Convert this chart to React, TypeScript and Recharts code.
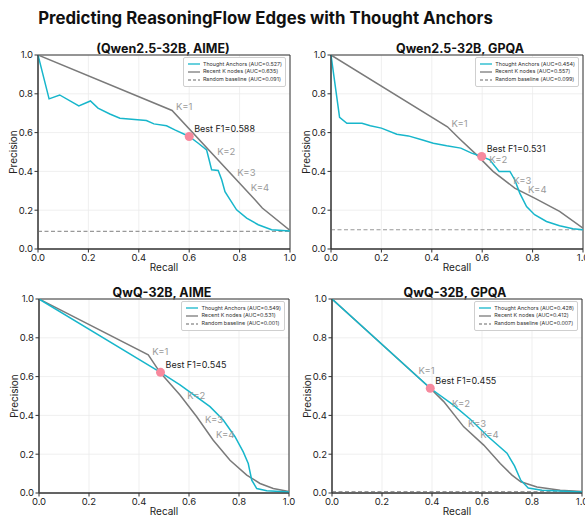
import React from "react";
import { ComposedChart, Line, Scatter, XAxis, YAxis, CartesianGrid, Legend, ReferenceArea, Label } from "recharts";

const TICKS = [0, 0.2, 0.4, 0.6, 0.8, 1.0];
const CYAN = "#17b6cb";
const GRAY = "#7a7a7a";
const BASE = "#999999";
const PINK = "#f7899d";

// Qwen2.5-32B, AIME
const qwenAimeAnchors = [[0, 1], [0.044, 0.774], [0.086, 0.794], [0.162, 0.738], [0.208, 0.763], [0.238, 0.726], [0.285, 0.696], [0.325, 0.674], [0.43, 0.662], [0.46, 0.645], [0.51, 0.635], [0.543, 0.614], [0.6, 0.58], [0.636, 0.545], [0.669, 0.511], [0.679, 0.46], [0.689, 0.408], [0.715, 0.405], [0.729, 0.357], [0.742, 0.296], [0.762, 0.254], [0.788, 0.202], [0.828, 0.159], [0.874, 0.125], [0.927, 0.099], [1, 0.093]];
const qwenAimeRecent = [[0, 1], [0.532, 0.714], [0.861, 0.254], [0.89, 0.211], [1, 0.096]];
const qwenAimeK = [[1, 0.532, 0.714], [2, 0.695, 0.486], [3, 0.775, 0.374], [4, 0.828, 0.3]];

// Qwen2.5-32B, GPQA
const qwenGpqaAnchors = [[0, 1], [0.034, 0.679], [0.063, 0.648], [0.123, 0.648], [0.156, 0.635], [0.2, 0.623], [0.261, 0.592], [0.307, 0.583], [0.36, 0.563], [0.406, 0.545], [0.459, 0.532], [0.515, 0.52], [0.558, 0.494], [0.598, 0.477], [0.63, 0.46], [0.667, 0.4], [0.71, 0.4], [0.729, 0.357], [0.749, 0.288], [0.776, 0.219], [0.808, 0.177], [0.855, 0.142], [0.907, 0.12], [0.96, 0.104], [1, 0.099]];
const qwenGpqaRecent = [[0, 1], [0.462, 0.63], [0.512, 0.566], [0.578, 0.485], [0.643, 0.4], [0.729, 0.314], [0.808, 0.262], [0.907, 0.194], [1, 0.108]];
const qwenGpqaK = [[1, 0.462, 0.63], [2, 0.612, 0.442], [3, 0.707, 0.336], [4, 0.766, 0.29]];

// QwQ-32B, AIME
const qwqAimeAnchors = [[0, 1], [0.486, 0.622], [0.564, 0.557], [0.684, 0.445], [0.737, 0.376], [0.784, 0.29], [0.817, 0.212], [0.837, 0.152], [0.851, 0.066], [0.871, 0.023], [0.911, 0.012], [1, 0.005]];
const qwqAimeRecent = [[0, 1], [0.437, 0.712], [0.484, 0.622], [0.564, 0.505], [0.631, 0.393], [0.697, 0.272], [0.764, 0.169], [0.831, 0.092], [0.884, 0.049], [0.937, 0.023], [1, 0.008]];
const qwqAimeK = [[1, 0.437, 0.712], [2, 0.577, 0.483], [3, 0.648, 0.362], [4, 0.692, 0.281]];

// QwQ-32B, GPQA
const qwqGpqaAnchors = [[0, 1], [0.393, 0.54], [0.486, 0.453], [0.553, 0.38], [0.625, 0.29], [0.7, 0.205], [0.73, 0.14], [0.755, 0.066], [0.785, 0.026], [0.84, 0.014], [1, 0.005]];
const qwqGpqaRecent = [[0, 1], [0.393, 0.54], [0.447, 0.471], [0.527, 0.341], [0.607, 0.247], [0.673, 0.152], [0.72, 0.092], [0.755, 0.058], [0.82, 0.031], [0.913, 0.014], [1, 0.008]];
const qwqGpqaK = [[1, 0.33, 0.614], [2, 0.464, 0.443], [3, 0.528, 0.341], [4, 0.577, 0.282]];

const titles = ["(Qwen2.5-32B, AIME)", "Qwen2.5-32B, GPQA", "QwQ-32B, AIME", "QwQ-32B, GPQA"];
const baselines = [0.091, 0.099, 0.001, 0.007];
const aucAnchors = ["0.527", "0.454", "0.549", "0.428"];
const aucRecent = ["0.635", "0.557", "0.531", "0.412"];
const aucRandom = ["0.091", "0.099", "0.001", "0.007"];
const bestPoints = [[0.6, 0.58], [0.598, 0.477], [0.486, 0.622], [0.393, 0.54]];
const bestF1 = ["0.588", "0.531", "0.545", "0.455"];

const pts = (a: number[][]) => a.map(([r, p]) => ({ r, p }));
const kpts = (a: number[][]) => a.map(([k, r, p]) => ({ k, r, p }));

const ML = 38, MT = 6, MR = 8, XH = 30;

function LegendBox({ items }: { items: { name: string; color: string; dash?: string }[] }) {
  return (
    <div style={{ background: "#fff", border: "1px solid #cfcfcf", borderRadius: 2, padding: "2.5px 3px 2.5px 4px", fontSize: 5.4, color: "#333", lineHeight: "7.8px", whiteSpace: "nowrap" }}>
      {items.map((it) => (
        <div key={it.name} style={{ display: "flex", alignItems: "center" }}>
          <svg width={12} height={6} style={{ marginRight: 3 }}>
            <line x1={0} y1={3} x2={12} y2={3} stroke={it.color} strokeWidth={1.3} strokeDasharray={it.dash} />
          </svg>
          <span>{it.name}</span>
        </div>
      ))}
    </div>
  );
}

type PanelProps = { i: number; left: number; top: number; w: number; h: number; titleX: number; anchors: number[][]; recent: number[][]; ks: number[][] };

function Panel({ i, left, top, w, h, titleX, anchors, recent, ks }: PanelProps) {
  const b = baselines[i];
  const items = [
    { name: `Thought Anchors (AUC=${aucAnchors[i]})`, color: CYAN },
    { name: `Recent K nodes (AUC=${aucRecent[i]})`, color: GRAY },
    { name: `Random baseline (AUC=${aucRandom[i]})`, color: BASE, dash: "3 2" },
  ];
  const best = [{ r: bestPoints[i][0], p: bestPoints[i][1] }];
  return (
    <>
      <div style={{ position: "absolute", left: titleX, top: top - 12.5, transform: "translateX(-50%)", fontSize: 12.5, fontWeight: 700, lineHeight: "12.5px", whiteSpace: "nowrap", color: "#111" }}>
        {titles[i]}
      </div>
      <div style={{ position: "absolute", left: left - ML, top: top - MT }}>
        <ComposedChart width={w + ML + MR} height={h + MT + XH} margin={{ top: MT, right: MR, left: 0, bottom: 0 }}>
          <CartesianGrid stroke="#ebebeb" strokeWidth={0.8} />
          <XAxis type="number" dataKey="r" domain={[0, 1]} ticks={TICKS} interval={0} allowDataOverflow height={XH}
            tickFormatter={(v: number) => v.toFixed(1)} tickSize={3.5} tickMargin={1.5} stroke="#333"
            tick={{ fontSize: 9.5, fill: "#222" }}>
            <Label value="Recall" position="insideBottom" offset={8.5} style={{ fontSize: 10, fill: "#222" }} />
          </XAxis>
          <YAxis type="number" domain={[0, 1]} ticks={TICKS} interval={0} allowDataOverflow width={ML}
            tickFormatter={(v: number) => v.toFixed(1)} tickSize={3.5} tickMargin={1.5} stroke="#333"
            tick={{ fontSize: 9.5, fill: "#222" }}>
            <Label value="Precision" angle={-90} position="insideLeft" offset={13} style={{ fontSize: 10, fill: "#222", textAnchor: "middle" }} />
          </YAxis>
          <ReferenceArea x1={0} x2={1} y1={0} y2={1} fill="none" fillOpacity={0} stroke="#333" strokeWidth={1} ifOverflow="visible" />
          <Line data={pts([[0, b], [1, b]])} dataKey="p" type="linear" stroke={BASE} strokeWidth={1.1} strokeDasharray="4 2.5" dot={false} isAnimationActive={false} />
          <Line data={pts(recent)} dataKey="p" type="linear" stroke={GRAY} strokeWidth={1.5} dot={false} isAnimationActive={false} />
          <Line data={pts(anchors)} dataKey="p" type="linear" stroke={CYAN} strokeWidth={1.5} dot={false} isAnimationActive={false} />
          <Scatter data={kpts(ks)} dataKey="p" legendType="none" isAnimationActive={false}
            shape={(props: any) => (
              <text x={props.cx + 4} y={props.cy} fontSize={9.5} fill="#9a9a9a">{`K=${props.payload.k}`}</text>
            )} />
          <Scatter data={best} dataKey="p" legendType="none" isAnimationActive={false}
            shape={(props: any) => (
              <g>
                <circle cx={props.cx} cy={props.cy} r={4.5} fill={PINK} />
                <text x={props.cx + 5} y={props.cy - 4} fontSize={9} fill="#222">{`Best F1=${bestF1[i]}`}</text>
              </g>
            )} />
          <Legend layout="horizontal" verticalAlign="middle" align="center"
            wrapperStyle={{ top: MT + 2, right: MR + 4, left: "auto", width: "auto", height: "auto" }}
            content={() => <LegendBox items={items} />} />
        </ComposedChart>
      </div>
    </>
  );
}

export default function App() {
  return (
    <div style={{ position: "absolute", left: 0, top: 0, width: 585, height: 515, overflow: "hidden", background: "#fff", fontFamily: "Inter, 'DejaVu Sans', sans-serif" }}>
      <div style={{ position: "absolute", left: 0, width: 531, top: 9, textAlign: "center", fontSize: 16.8, fontWeight: 700, lineHeight: "18px", color: "#111" }}>
        Predicting ReasoningFlow Edges with Thought Anchors
      </div>
      <Panel i={0} left={38} top={55} w={252} h={194} titleX={163} anchors={qwenAimeAnchors} recent={qwenAimeRecent} ks={qwenAimeK} />
      <Panel i={1} left={331} top={55} w={252} h={194} titleX={460} anchors={qwenGpqaAnchors} recent={qwenGpqaRecent} ks={qwenGpqaK} />
      <Panel i={2} left={39} top={299} w={250} h={194} titleX={162} anchors={qwqAimeAnchors} recent={qwqAimeRecent} ks={qwqAimeK} />
      <Panel i={3} left={332} top={299} w={250} h={194} titleX={455} anchors={qwqGpqaAnchors} recent={qwqGpqaRecent} ks={qwqGpqaK} />
    </div>
  );
}
